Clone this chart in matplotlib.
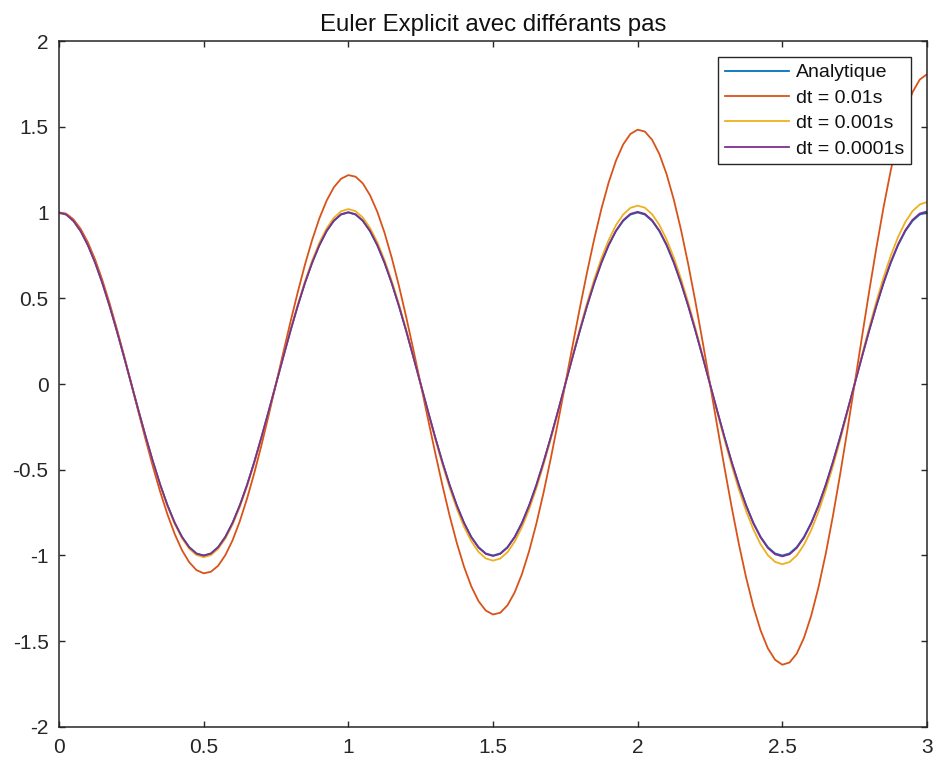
import numpy as np
import matplotlib
matplotlib.use("Agg")
import matplotlib.pyplot as plt

# sample times (s), one value every 0.025 s
t = np.linspace(0.0, 3.0, 121)

# values, one per sample time
analytique = [
    1.000, 0.988, 0.951, 0.891, 0.809, 0.707, 0.588, 0.454, 0.309, 0.156,
    0.000, -0.156, -0.309, -0.454, -0.588, -0.707, -0.809, -0.891, -0.951, -0.988,
    -1.000, -0.988, -0.951, -0.891, -0.809, -0.707, -0.588, -0.454, -0.309, -0.156,
    0.000, 0.156, 0.309, 0.454, 0.588, 0.707, 0.809, 0.891, 0.951, 0.988,
    1.000, 0.988, 0.951, 0.891, 0.809, 0.707, 0.588, 0.454, 0.309, 0.156,
    0.000, -0.156, -0.309, -0.454, -0.588, -0.707, -0.809, -0.891, -0.951, -0.988,
    -1.000, -0.988, -0.951, -0.891, -0.809, -0.707, -0.588, -0.454, -0.309, -0.156,
    0.000, 0.156, 0.309, 0.454, 0.588, 0.707, 0.809, 0.891, 0.951, 0.988,
    1.000, 0.988, 0.951, 0.891, 0.809, 0.707, 0.588, 0.454, 0.309, 0.156,
    0.000, -0.156, -0.309, -0.454, -0.588, -0.707, -0.809, -0.891, -0.951, -0.988,
    -1.000, -0.988, -0.951, -0.891, -0.809, -0.707, -0.588, -0.454, -0.309, -0.156,
    0.000, 0.156, 0.309, 0.454, 0.588, 0.707, 0.809, 0.891, 0.951, 0.988,
    1.000,
]

euler_01 = [
    1.000, 0.993, 0.960, 0.904, 0.825, 0.725, 0.605, 0.470, 0.321, 0.164,
    0.000, -0.165, -0.328, -0.484, -0.630, -0.761, -0.875, -0.969, -1.039, -1.085,
    -1.104, -1.095, -1.060, -0.998, -0.911, -0.800, -0.668, -0.519, -0.355, -0.180,
    0.000, 0.182, 0.362, 0.534, 0.695, 0.840, 0.966, 1.069, 1.147, 1.197,
    1.218, 1.209, 1.170, 1.101, 1.005, 0.883, 0.737, 0.572, 0.391, 0.199,
    0.000, -0.201, -0.399, -0.589, -0.767, -0.927, -1.066, -1.180, -1.266, -1.321,
    -1.344, -1.334, -1.291, -1.215, -1.109, -0.974, -0.814, -0.632, -0.432, -0.220,
    0.000, 0.222, 0.441, 0.650, 0.846, 1.023, 1.176, 1.302, 1.397, 1.458,
    1.483, 1.472, 1.424, 1.341, 1.224, 1.075, 0.898, 0.697, 0.477, 0.243,
    0.000, -0.245, -0.486, -0.718, -0.934, -1.129, -1.298, -1.437, -1.541, -1.608,
    -1.637, -1.624, -1.572, -1.480, -1.350, -1.186, -0.991, -0.769, -0.526, -0.268,
    0.000, 0.270, 0.537, 0.792, 1.031, 1.246, 1.433, 1.586, 1.701, 1.775,
    1.806,
]

euler_001 = [
    1.000, 0.988, 0.952, 0.892, 0.811, 0.709, 0.590, 0.456, 0.310, 0.157,
    0.000, -0.157, -0.311, -0.457, -0.592, -0.712, -0.815, -0.899, -0.960, -0.997,
    -1.010, -0.998, -0.961, -0.901, -0.819, -0.716, -0.595, -0.460, -0.313, -0.159,
    0.000, 0.159, 0.314, 0.461, 0.598, 0.719, 0.824, 0.907, 0.969, 1.007,
    1.020, 1.008, 0.971, 0.910, 0.827, 0.723, 0.601, 0.465, 0.316, 0.160,
    0.000, -0.160, -0.317, -0.466, -0.604, -0.727, -0.832, -0.916, -0.979, -1.017,
    -1.030, -1.018, -0.981, -0.919, -0.835, -0.730, -0.607, -0.469, -0.320, -0.162,
    0.000, 0.162, 0.320, 0.471, 0.610, 0.734, 0.840, 0.926, 0.988, 1.027,
    1.040, 1.028, 0.990, 0.928, 0.843, 0.737, 0.613, 0.474, 0.323, 0.163,
    0.000, -0.164, -0.323, -0.475, -0.616, -0.741, -0.848, -0.935, -0.998, -1.037,
    -1.051, -1.038, -1.000, -0.937, -0.852, -0.745, -0.619, -0.479, -0.326, -0.165,
    0.000, 0.165, 0.327, 0.480, 0.622, 0.748, 0.857, 0.944, 1.008, 1.047,
    1.061,
]

euler_0001 = [
    1.000, 0.988, 0.951, 0.891, 0.809, 0.707, 0.588, 0.454, 0.309, 0.157,
    0.000, -0.157, -0.309, -0.454, -0.588, -0.708, -0.810, -0.892, -0.952, -0.989,
    -1.001, -0.989, -0.952, -0.892, -0.810, -0.708, -0.589, -0.455, -0.309, -0.157,
    0.000, 0.157, 0.310, 0.455, 0.589, 0.708, 0.810, 0.893, 0.953, 0.990,
    1.002, 0.990, 0.953, 0.893, 0.811, 0.709, 0.589, 0.455, 0.310, 0.157,
    0.000, -0.157, -0.310, -0.455, -0.589, -0.709, -0.811, -0.894, -0.954, -0.991,
    -1.003, -0.991, -0.954, -0.894, -0.812, -0.709, -0.590, -0.455, -0.310, -0.157,
    0.000, 0.157, 0.310, 0.456, 0.590, 0.710, 0.812, 0.894, 0.955, 0.992,
    1.004, 0.992, 0.955, 0.895, 0.812, 0.710, 0.590, 0.456, 0.310, 0.157,
    0.000, -0.157, -0.310, -0.456, -0.591, -0.710, -0.813, -0.895, -0.956, -0.993,
    -1.005, -0.993, -0.956, -0.896, -0.813, -0.711, -0.591, -0.456, -0.311, -0.157,
    0.000, 0.157, 0.311, 0.457, 0.591, 0.711, 0.814, 0.896, 0.957, 0.994,
    1.006,
]

labels = ["Analytique", "dt = 0.01s", "dt = 0.001s", "dt = 0.0001s"]
colors = ["#0072BD", "#D95319", "#EDB120", "#7E2F8E"]

plt.rcParams["font.family"] = ["Liberation Sans", "DejaVu Sans"]
axcol = "#262626"

fig = plt.figure(figsize=(9.35, 7.61), dpi=100)
ax = fig.add_axes([0.0631, 0.0447, 0.9283, 0.9014])

for y, lab, col in zip([analytique, euler_01, euler_001, euler_0001], labels, colors):
    ax.plot(t, y, color=col, lw=1.3, label=lab)

ax.set_xlim(0, 3)
ax.set_ylim(-2, 2)
ax.set_xticks([0, 0.5, 1, 1.5, 2, 2.5, 3])
ax.set_xticklabels(["0", "0.5", "1", "1.5", "2", "2.5", "3"])
ax.set_yticks([-2, -1.5, -1, -0.5, 0, 0.5, 1, 1.5, 2])
ax.set_yticklabels(["-2", "-1.5", "-1", "-0.5", "0", "0.5", "1", "1.5", "2"])
ax.tick_params(direction="in", length=4.5, width=1.0, color=axcol, labelcolor=axcol,
               labelsize=15, top=True, right=True)
ax.tick_params(axis="x", pad=8)
ax.tick_params(axis="y", pad=7.5)
for sp in ax.spines.values():
    sp.set_color(axcol)
    sp.set_linewidth(1.1)

ax.set_title("Euler Explicit avec différants pas", fontsize=17.3, color="#111111", pad=7)

leg = ax.legend(loc="upper right", bbox_to_anchor=(0.9816, 0.9767), borderaxespad=0,
                fontsize=14, handlelength=3.3, handletextpad=0.36, labelspacing=0.4,
                borderpad=0.35, fancybox=False, framealpha=1, edgecolor=axcol)
leg.get_frame().set_linewidth(1.0)
for txt in leg.get_texts():
    txt.set_color("#111111")

fig.savefig("out.png", dpi=100)
